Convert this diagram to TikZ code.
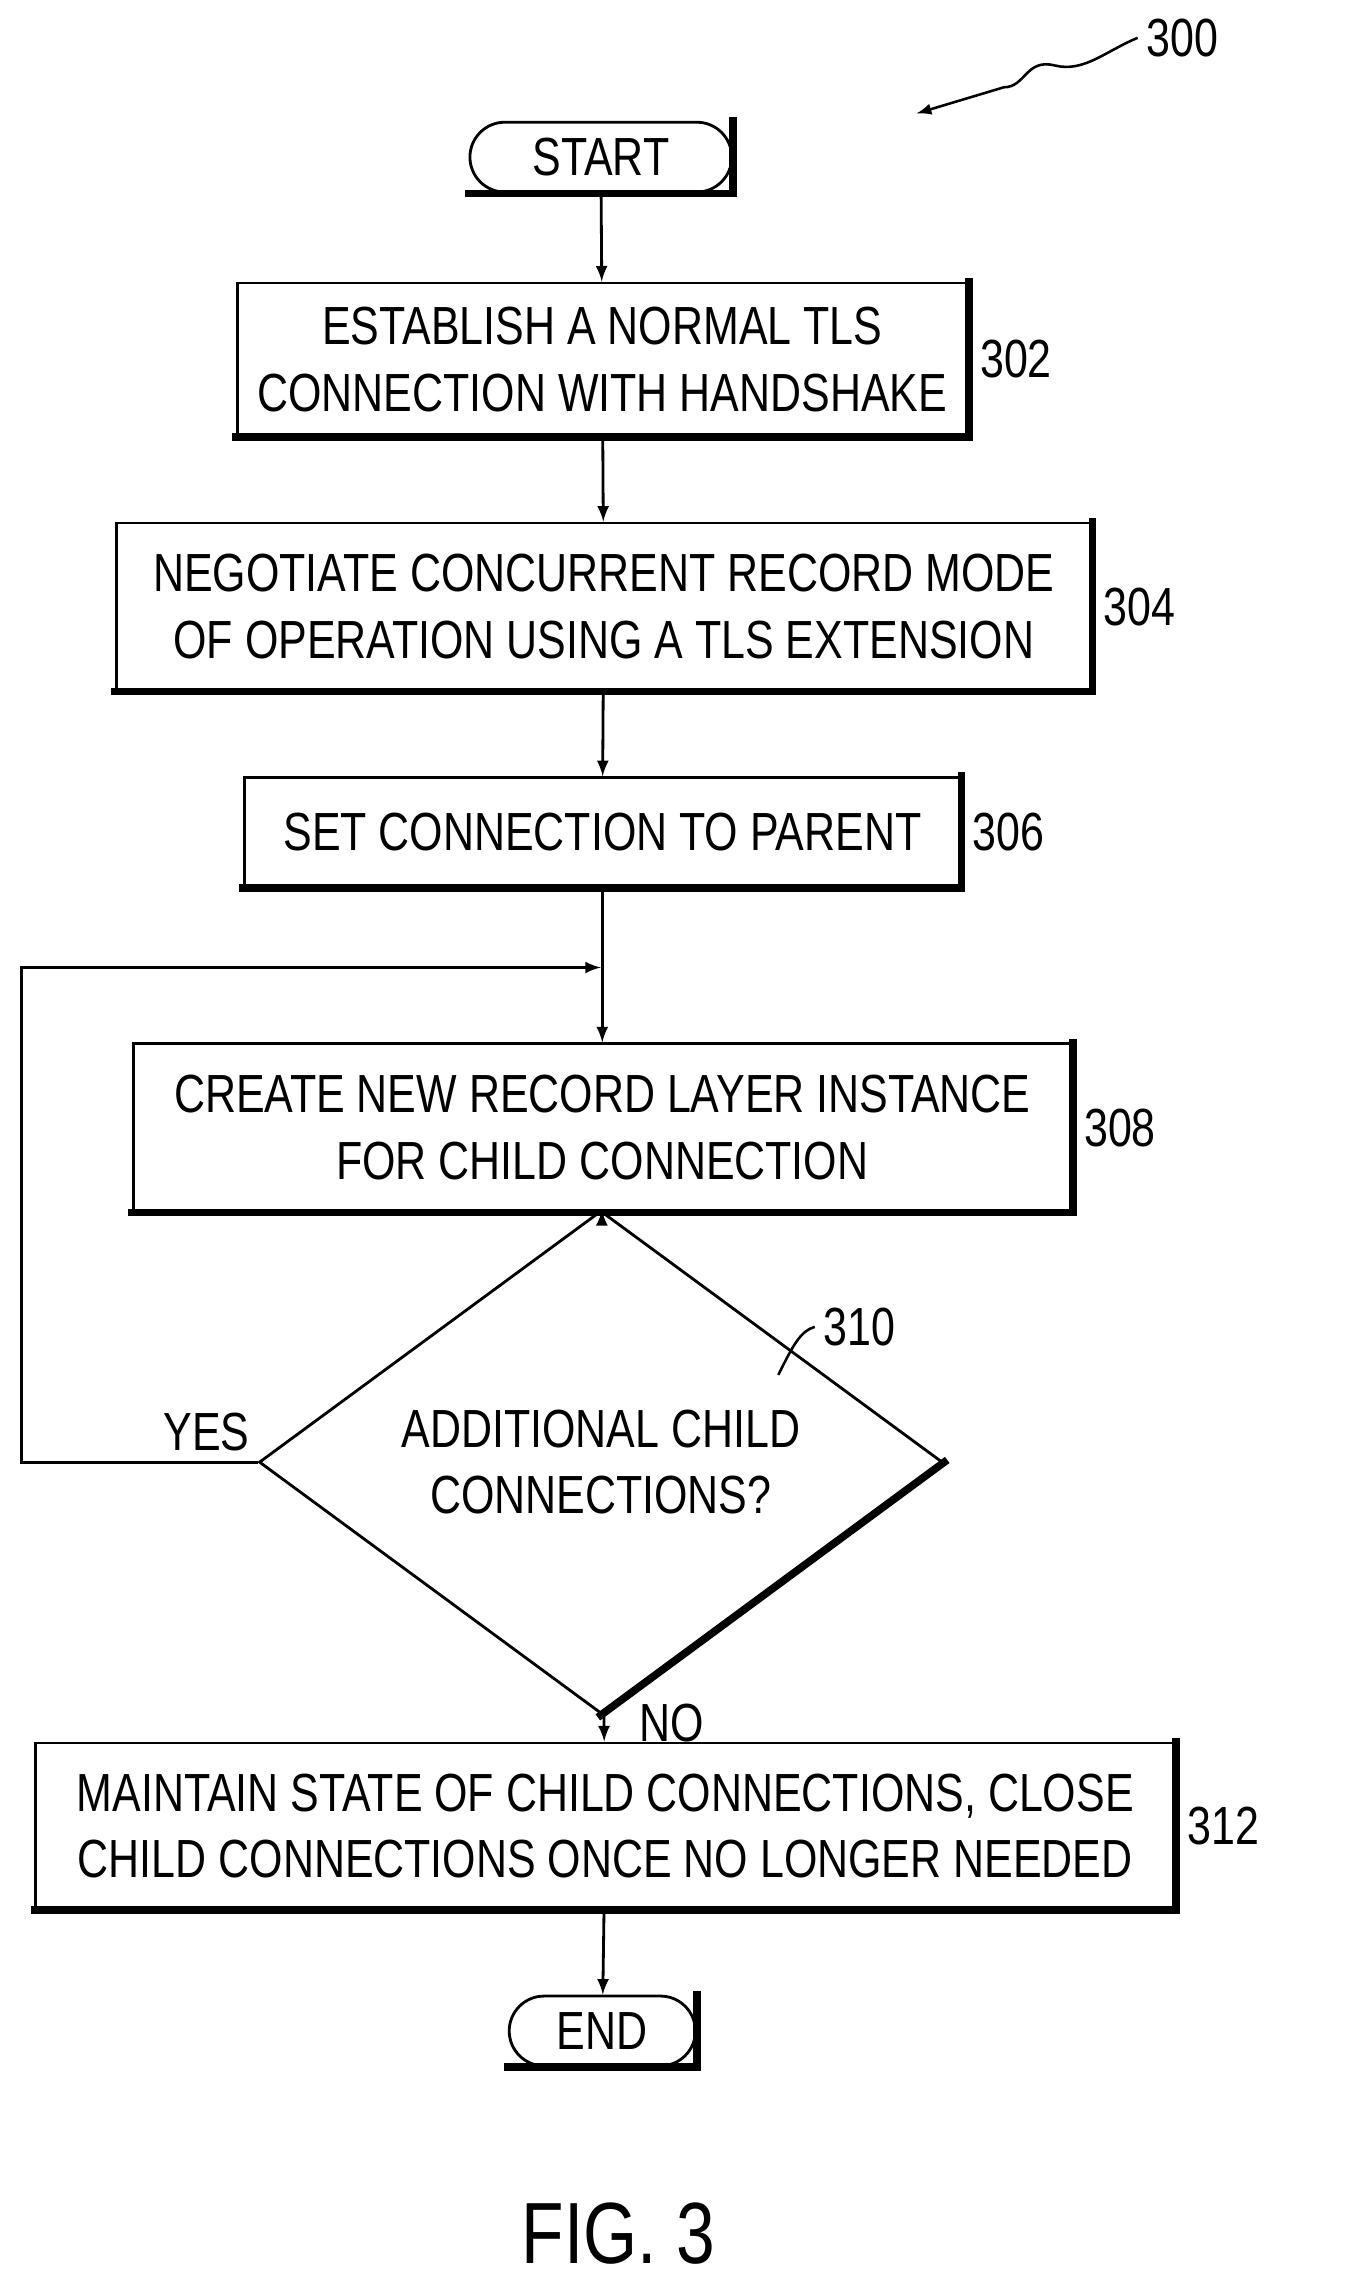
\documentclass[tikz,border=0pt]{standalone}
\usepackage{fontspec}
\setmainfont{Liberation Sans}[FakeStretch=0.8]
\usetikzlibrary{shapes.geometric}
\tikzset{
  block/.style={rectangle, draw, line width=1.1pt, inner sep=0pt, align=center, font=\fontsize{21}{26}\selectfont},
  term/.style={rectangle, rounded corners=0.48cm, draw, line width=1.1pt, inner sep=0pt, minimum height=0.96cm, font=\fontsize{21}{26}\selectfont},
  edge shadow/.style={line width=3pt, line cap=rect},
  flow/.style={->, >=latex, line width=1.1pt},
  refnum/.style={font=\fontsize{21}{26}\selectfont, anchor=west},
  leader/.style={line width=1pt}
}
\newcommand{\dropedge}[1]{\draw[edge shadow] ([shift={(0.06,-0.06)}]#1.south west) -- ([shift={(0.06,-0.06)}]#1.south east) -- ([shift={(0.06,0.06)}]#1.north east);}
\newcommand{\leadto}[2]{\draw[leader] (#1.east) ++(0.05,0) .. controls ++(0.3,0.35) and ++(-0.3,-0.35) .. ++(0.6,0) .. controls ++(0.2,0.2) and ++(-0.2,0) .. ++(0.4,0.1) node[refnum] {#2};}
\begin{document}
\begin{tikzpicture}[x=0.02cm,y=-0.02cm]
  \useasboundingbox (0,0) rectangle (934,1572);
  % blocks
  \node[term, minimum width=3.6cm] (start) at (413,108) {START};
  \node[block, minimum width=10.04cm, minimum height=2.1cm] (s302) at (414,247) {ESTABLISH A NORMAL TLS\\CONNECTION WITH HANDSHAKE};
  \node[block, minimum width=13.4cm, minimum height=2.3cm] (s304) at (415,417) {NEGOTIATE CONCURRENT RECORD MODE\\OF OPERATION USING A TLS EXTENSION};
  \node[block, minimum width=9.84cm, minimum height=1.5cm] (s306) at (414,572) {SET CONNECTION TO PARENT};
  \node[block, minimum width=12.9cm, minimum height=2.3cm] (s308) at (414,775) {CREATE NEW RECORD LAYER INSTANCE\\FOR CHILD CONNECTION};
  \node[diamond, draw, line width=1.1pt, inner sep=0pt, minimum width=9.4cm, minimum height=4.5cm, align=center, font=\fontsize{21}{26}\selectfont] (s310) at (413,1005) {ADDITIONAL CHILD\\CONNECTIONS?};
  \node[block, minimum width=15.66cm, minimum height=2.28cm] (s312) at (416,1255) {MAINTAIN STATE OF CHILD CONNECTIONS, CLOSE\\CHILD CONNECTIONS ONCE NO LONGER NEEDED};
  \node[term, minimum width=2.56cm] (finish) at (414,1396) {END};
  \coordinate (loop) at (413,665);
  % shadows
  \dropedge{start}
  \dropedge{s302}
  \dropedge{s304}
  \dropedge{s306}
  \dropedge{s308}
  \dropedge{s312}
  \dropedge{finish}
  \draw[edge shadow] ([shift={(0.05,0.05)}]s310.east) -- ([shift={(0.05,0.05)}]s310.south);
  % connectors
  \draw[flow] (start) -- (s302);
  \draw[flow] (s302) -- (s304);
  \draw[flow] (s304) -- (s306);
  \draw[flow] (s306) -- (s308);
  \draw[flow] (s308) -- (s310);
  \draw[flow] (s310) -- node[pos=0.35, right=0.35cm, font=\fontsize{21}{26}\selectfont] {NO} (s312);
  \draw[flow] (s312) -- (finish);
  \draw[flow] (s310.west) -- (15,1005) |- (loop);
  \node[font=\fontsize{21}{26}\selectfont] (yes) at (142,984) {YES};
  % reference numerals
  \leadto{s302}{302}
  \leadto{s304}{304}
  \leadto{s306}{306}
  \leadto{s308}{308}
  \leadto{s312}{312}
  \node[refnum] (n310) at (560,912) {310};
  \draw[leader] (535,945) .. controls (545,925) and (550,915) .. (n310.west);
  \node[refnum] (n300) at (782,26) {300};
  \draw[leader, ->, >=latex] (n300.west) .. controls (760,35) and (745,50) .. (725,45)
    .. controls (705,40) and (705,60) .. (690,60) -- (630,78);
  \node[font=\fontsize{34}{40}\selectfont] (fig) at (425,1535) {FIG. 3};
\end{tikzpicture}
\end{document}
